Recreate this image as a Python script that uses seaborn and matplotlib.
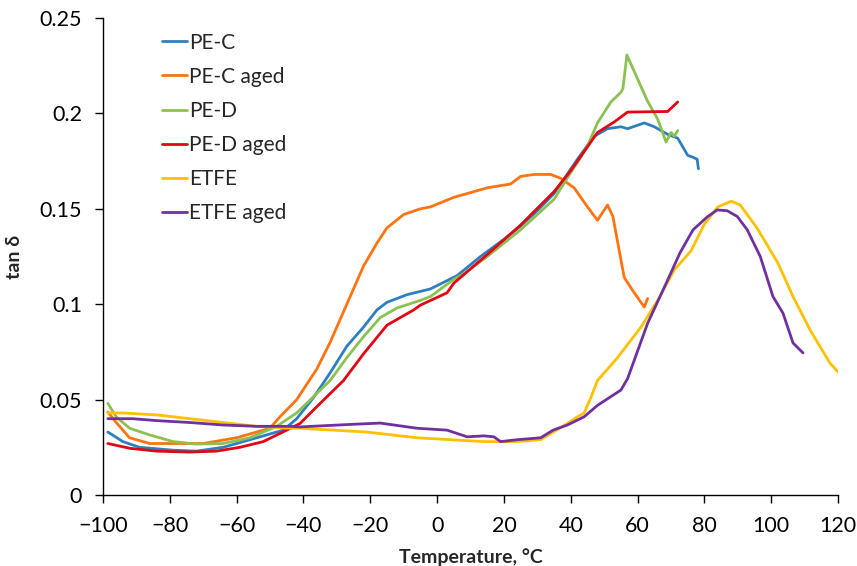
import matplotlib
matplotlib.use("Agg")
import matplotlib.pyplot as plt
import seaborn as sns
import pandas as pd
from matplotlib.ticker import FuncFormatter

pec_T = [-98.5, -94, -89, -79, -72, -64, -54, -46, -42, -37, -32, -27, -22, -18, -15, -9, -2, 6, 13, 20, 25, 30, 35, 42, 47, 51, 55, 57, 62, 65, 69, 72, 75, 76.6, 77.8, 78.2]
pec_y = [0.033, 0.028, 0.025, 0.0235, 0.023, 0.025, 0.030, 0.034, 0.040, 0.051, 0.064, 0.078, 0.088, 0.097, 0.101, 0.105, 0.108, 0.115, 0.125, 0.134, 0.141, 0.149, 0.158, 0.176, 0.188, 0.192, 0.193, 0.192, 0.195, 0.193, 0.189, 0.187, 0.178, 0.177, 0.176, 0.171]

peca_T = [-98.5, -96, -92, -86, -78, -70, -60, -50, -47, -42, -36, -32, -27, -22, -18, -15, -10, -5, -2, 5, 13, 15, 22, 25, 29, 34, 37, 41, 45, 48, 51, 52.6, 56, 58.6, 62, 63]
peca_y = [0.0435, 0.038, 0.030, 0.027, 0.027, 0.027, 0.030, 0.035, 0.041, 0.050, 0.066, 0.080, 0.100, 0.120, 0.132, 0.140, 0.147, 0.150, 0.151, 0.156, 0.160, 0.161, 0.163, 0.167, 0.168, 0.168, 0.166, 0.161, 0.151, 0.144, 0.152, 0.146, 0.114, 0.107, 0.0985, 0.103]

ped_T = [-98.5, -96, -92, -86, -79, -72, -64, -56, -48, -42, -32, -27, -22, -17, -12, -5, -2, 5, 8, 15, 25, 35, 40, 43, 45, 48, 52, 55, 55.6, 56.8, 62.8, 66, 68.5, 70, 71, 72]
ped_y = [0.048, 0.041, 0.035, 0.0315, 0.028, 0.0267, 0.027, 0.030, 0.036, 0.043, 0.060, 0.072, 0.083, 0.093, 0.098, 0.102, 0.104, 0.113, 0.116, 0.125, 0.139, 0.155, 0.169, 0.177, 0.183, 0.195, 0.206, 0.211, 0.213, 0.2306, 0.207, 0.197, 0.185, 0.190, 0.188, 0.191]

peda_T = [-98.5, -92, -84, -74, -66, -59, -52, -45, -41, -35, -28, -22, -15, -7, -5, 3, 5, 13, 15, 25, 35, 40, 44, 48, 53, 57, 69, 72]
peda_y = [0.027, 0.0245, 0.023, 0.0225, 0.023, 0.025, 0.028, 0.034, 0.0375, 0.048, 0.060, 0.074, 0.089, 0.097, 0.0995, 0.106, 0.111, 0.123, 0.126, 0.1415, 0.159, 0.170, 0.180, 0.190, 0.1955, 0.2007, 0.201, 0.206]

etfe_T = [-98.5, -94, -84, -74, -64, -54, -44, -41, -21, -6, 4, 13.7, 24, 31, 39, 42, 44, 46, 48, 49, 54, 61, 66, 71, 76, 80, 84, 88, 90.7, 95.7, 102, 106.5, 111.6, 117.6, 120]
etfe_y = [0.043, 0.043, 0.042, 0.040, 0.038, 0.036, 0.035, 0.035, 0.033, 0.030, 0.029, 0.028, 0.028, 0.029, 0.0375, 0.041, 0.043, 0.051, 0.060, 0.062, 0.072, 0.088, 0.102, 0.118, 0.128, 0.142, 0.151, 0.154, 0.152, 0.140, 0.1215, 0.104, 0.0865, 0.069, 0.0645]

etfea_T = [-98.5, -91, -84, -74, -64, -54, -44, -41, -26, -17, -6, 3, 9, 14, 17, 19, 24, 31, 34.7, 39, 44, 48, 55, 57, 63, 69, 72.7, 76.6, 80.8, 83.8, 86.8, 89.8, 92.8, 96.7, 100.5, 103.5, 106.5, 108.6, 109.5]
etfea_y = [0.040, 0.040, 0.039, 0.038, 0.0367, 0.036, 0.036, 0.0357, 0.037, 0.0377, 0.035, 0.034, 0.0305, 0.031, 0.0305, 0.028, 0.029, 0.030, 0.034, 0.0367, 0.041, 0.047, 0.055, 0.061, 0.090, 0.1127, 0.127, 0.139, 0.1457, 0.1494, 0.149, 0.146, 0.139, 0.125, 0.104, 0.0953, 0.0797, 0.076, 0.0745]

series = [
    ("PE-C", pec_T, pec_y, "#2E7EC1"),
    ("PE-C aged", peca_T, peca_y, "#FF7410"),
    ("PE-D", ped_T, ped_y, "#8CC152"),
    ("PE-D aged", peda_T, peda_y, "#E30613"),
    ("ETFE", etfe_T, etfe_y, "#FFC000"),
    ("ETFE aged", etfea_T, etfea_y, "#7030A0"),
]

rows = []
for name, T, y, c in series:
    for t, v in zip(T, y):
        rows.append({"T": t, "tan": v, "series": name})
df = pd.DataFrame(rows)

sns.set_style("ticks")
plt.rcParams['font.family'] = ['Lato', 'DejaVu Sans']

fig = plt.figure(figsize=(8.57, 5.66), dpi=100)
ax = fig.add_axes([0.120, 0.1254, 0.858, 0.8428])

palette = {name: c for name, _, _, c in series}
sns.lineplot(data=df, x="T", y="tan", hue="series", palette=palette, sort=False,
             estimator=None, linewidth=2.0, ax=ax, hue_order=[s[0] for s in series])

ax.set_xlim(-100, 120)
ax.set_ylim(0, 0.25)
ax.set_xticks(range(-100, 121, 20))
ax.set_yticks([0, 0.05, 0.1, 0.15, 0.2, 0.25])
ax.yaxis.set_major_formatter(FuncFormatter(lambda v, p: f"{v:g}"))
ax.tick_params(axis='both', labelsize=15.5, length=6, width=1, colors='black', direction='out', pad=9)
for s in ["top", "right"]:
    ax.spines[s].set_visible(False)
for s in ["left", "bottom"]:
    ax.spines[s].set_color("black")
    ax.spines[s].set_linewidth(1)

ax.set_xlabel("Temperature, °C", fontsize=14, fontweight='bold', labelpad=9)
ax.set_ylabel("tan δ", fontsize=14, fontweight='bold', labelpad=12)

leg = ax.legend(loc="upper left", bbox_to_anchor=(0.06, 1.0), frameon=False, fontsize=15,
                handlelength=1.2, handletextpad=0.1, labelspacing=0.68, borderaxespad=0.3)

fig.savefig("out.png", dpi=100)
